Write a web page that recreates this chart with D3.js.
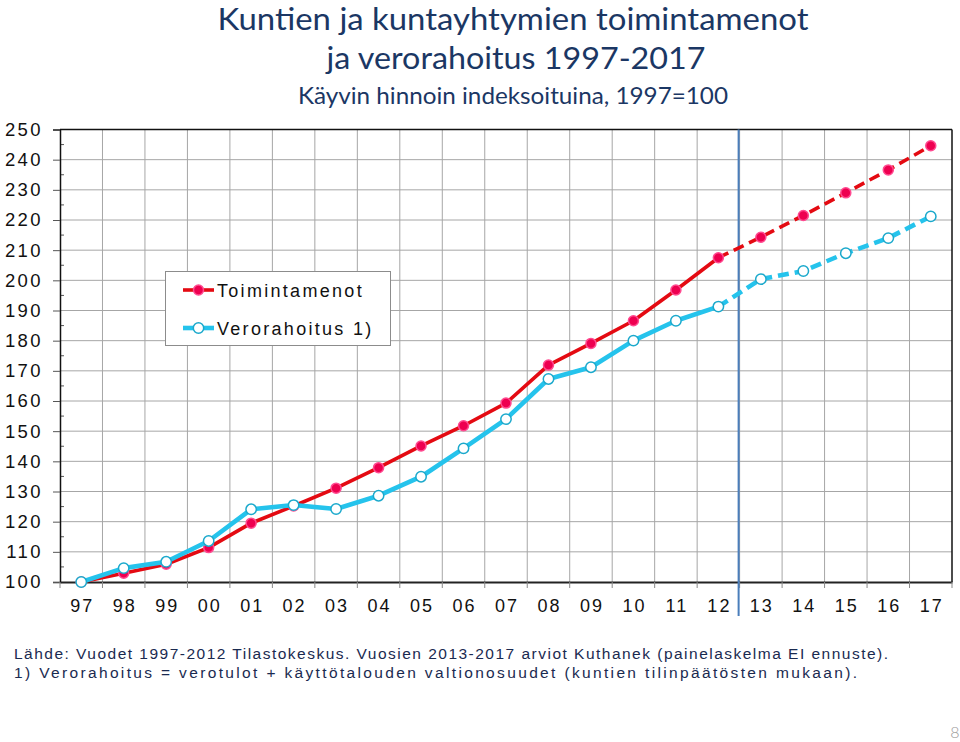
<!DOCTYPE html>
<html><head><meta charset="utf-8">
<script src="https://cdn.jsdelivr.net/npm/d3@7"></script>
<style>body{margin:0;background:#fff}svg{display:block}</style>
</head><body>
<svg id="c" width="960" height="742"></svg>
<script>
const years = ["97","98","99","00","01","02","03","04","05","06","07","08","09","10","11","12","13","14","15","16","17"];
const toimintamenot = [100,102.9,105.9,111.4,119.5,125.2,131.1,137.9,145.1,151.8,159.3,171.9,179.1,186.6,196.8,207.5,214.3,221.5,229.0,236.6,244.6];
const verorahoitus = [100,104.6,106.7,113.6,124.1,125.5,124.2,128.6,134.9,144.3,154.0,167.3,171.2,180.0,186.6,191.3,200.4,203.1,209.0,214.0,221.2];
const yTicks = [100,110,120,130,140,150,160,170,180,190,200,210,220,230,240,250];
const forecastFrom = "12"; // last actual year, dashed after
const titleLines = ["Kuntien ja kuntayhtymien toimintamenot","ja verorahoitus 1997-2017"];
const subtitle = "Käyvin hinnoin indeksoituina, 1997=100";
const seriesNames = ["Toimintamenot","Verorahoitus 1)"];
const notes = ["Lähde: Vuodet 1997-2012 Tilastokeskus. Vuosien 2013-2017 arviot Kuthanek (painelaskelma EI ennuste).",
               "1) Verorahoitus = verotulot + käyttötalouden valtionosuudet (kuntien tilinpäätösten mukaan)."];

const svg = d3.select("#c");
const L=60, R=952, T=129.5, B=582;
const x = d3.scaleBand().domain(years).range([L,R]);
const y = d3.scaleLinear().domain([100,250]).range([B,T]);
const cx = d => x(d)+x.bandwidth()/2;

// titles
const navy="#1b3764";
svg.append("text").attr("x",513).attr("y",30).attr("text-anchor","middle")
  .attr("font-family","Lato").attr("font-size",30).attr("fill",navy)
  .attr("textLength",591).attr("lengthAdjust","spacingAndGlyphs").text(titleLines[0]);
svg.append("text").attr("x",516).attr("y",69).attr("text-anchor","middle")
  .attr("font-family","Lato").attr("font-size",31).attr("fill",navy)
  .attr("textLength",379).attr("lengthAdjust","spacingAndGlyphs").text(titleLines[1]);
svg.append("text").attr("x",513).attr("y",104).attr("text-anchor","middle")
  .attr("font-family","Lato").attr("font-size",24).attr("fill",navy)
  .attr("textLength",430).attr("lengthAdjust","spacingAndGlyphs").text(subtitle);

// grid
const g = svg.append("g");
g.selectAll(".hg").data(yTicks.filter(v=>v>100&&v<250)).join("line")
  .attr("x1",L).attr("x2",R).attr("y1",d=>y(d)).attr("y2",d=>y(d))
  .attr("stroke","#a6a6a6").attr("stroke-width",1);
g.selectAll(".vg").data(years.slice(1)).join("line")
  .attr("x1",d=>x(d)).attr("x2",d=>x(d)).attr("y1",T).attr("y2",B)
  .attr("stroke","#a6a6a6").attr("stroke-width",1);
// border top/right
g.append("line").attr("x1",L).attr("x2",R).attr("y1",T).attr("y2",T).attr("stroke","#111").attr("stroke-width",1.5);
g.append("line").attr("x1",R).attr("x2",R).attr("y1",T).attr("y2",B).attr("stroke","#111").attr("stroke-width",1.5);

// minor y ticks
g.selectAll(".mt").data(d3.range(105,250,10)).join("line")
  .attr("x1",L).attr("x2",L+4).attr("y1",d=>y(d)).attr("y2",d=>y(d))
  .attr("stroke","#555").attr("stroke-width",1);

// y axis
const ya = svg.append("g").attr("transform",`translate(${L},0)`)
  .call(d3.axisLeft(y).tickValues(yTicks).tickSize(7).tickPadding(10).tickFormat(d3.format("d")));
ya.select(".domain").attr("stroke","#111").attr("stroke-width",1.5);
ya.selectAll(".tick line").attr("stroke","#555");
ya.selectAll("text").attr("font-family","Liberation Sans, Arial").attr("font-size",18.5)
  .attr("fill","#111").attr("letter-spacing",2.4);

// x axis
const xa = svg.append("g").attr("transform",`translate(0,${B})`)
  .call(d3.axisBottom(x).tickSize(0).tickPadding(17));
xa.select(".domain").attr("stroke","#222").attr("stroke-width",2);
xa.selectAll("text").attr("font-family","Liberation Sans, Arial").attr("font-size",18)
  .attr("fill","#111").attr("letter-spacing",2).attr("dx",1);
svg.append("g").selectAll("line").data(years).join("line")
  .attr("x1",d=>x(d)).attr("x2",d=>x(d)).attr("y1",B).attr("y2",B+6)
  .attr("stroke","#888").attr("stroke-width",1);
svg.append("line").attr("x1",R).attr("x2",R).attr("y1",B).attr("y2",B+6).attr("stroke","#888");

// forecast divider
const fx = x(forecastFrom)+x.bandwidth();
svg.append("line").attr("x1",fx-1).attr("x2",fx-1).attr("y1",T).attr("y2",616)
  .attr("stroke","#4a7ebb").attr("stroke-width",2);

// series
const fi = years.indexOf(forecastFrom);
const line = d3.line().x((d,i)=>cx(years[d.i])).y(d=>y(d.v));
function drawSeries(vals, color, width, markerFill, markerStroke, r){
  const pts = vals.map((v,i)=>({v,i}));
  svg.append("path").datum(pts.slice(0,fi+1)).attr("d",line)
    .attr("fill","none").attr("stroke",color).attr("stroke-width",width).attr("stroke-linejoin","round");
  svg.append("path").datum(pts.slice(fi)).attr("d",line)
    .attr("fill","none").attr("stroke",color).attr("stroke-width",width).attr("stroke-dasharray","11,6");
  svg.append("g").selectAll("circle").data(pts).join("circle")
    .attr("cx",d=>cx(years[d.i])).attr("cy",d=>y(d.v)).attr("r",r)
    .attr("fill",markerFill).attr("stroke",markerStroke).attr("stroke-width",1.5);
}
drawSeries(toimintamenot,"#e40a12",3.6,"#ee0050","#ff4a90",5);
drawSeries(verorahoitus,"#25c3ec",4.6,"#ffffff","#1ba9cc",5.2);

// legend
const lg = svg.append("g");
lg.append("rect").attr("x",165.5).attr("y",271.5).attr("width",225).attr("height",74)
  .attr("fill","#fff").attr("stroke","#8c8c8c").attr("stroke-width",1);
const legItems = [
  {name:seriesNames[0],color:"#e40a12",w:3.6,mf:"#ee0050",ms:"#ff4a90",r:5,y:290},
  {name:seriesNames[1],color:"#25c3ec",w:4.6,mf:"#ffffff",ms:"#1ba9cc",r:5.2,y:328}
];
legItems.forEach(it=>{
  lg.append("line").attr("x1",183).attr("x2",214).attr("y1",it.y).attr("y2",it.y)
    .attr("stroke",it.color).attr("stroke-width",it.w);
  lg.append("circle").attr("cx",198.5).attr("cy",it.y).attr("r",it.r)
    .attr("fill",it.mf).attr("stroke",it.ms).attr("stroke-width",1.5);
  lg.append("text").attr("x",217).attr("y",it.y+6.5).attr("font-family","Liberation Sans, Arial")
    .attr("font-size",18).attr("fill","#111").attr("letter-spacing",2.3).text(it.name);
});

// notes
svg.append("text").attr("x",14).attr("y",659).attr("font-family","Liberation Sans, Arial")
  .attr("font-size",15.5).attr("fill","#1a2a50").attr("textLength",874).attr("lengthAdjust","spacing").text(notes[0]);
svg.append("text").attr("x",14).attr("y",678).attr("font-family","Liberation Sans, Arial")
  .attr("font-size",15.5).attr("fill","#1a2a50").attr("textLength",843).attr("lengthAdjust","spacing").text(notes[1]);

// page number
svg.append("text").attr("x",955).attr("y",738).attr("text-anchor","middle")
  .attr("font-family","Lato").attr("font-weight",300).attr("font-size",16).attr("fill","#9a9a9a").text("8");
</script>
</body></html>
